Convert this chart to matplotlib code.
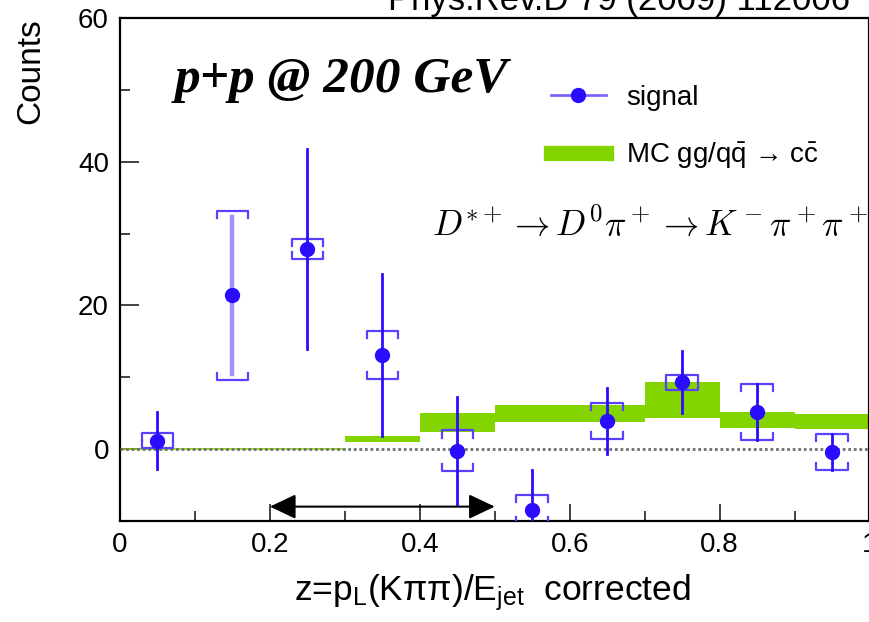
import numpy as np
import matplotlib
matplotlib.use("Agg")
import matplotlib.pyplot as plt
from matplotlib.lines import Line2D

plt.rcParams['font.family'] = ['Liberation Sans', 'DejaVu Sans']
plt.rcParams['mathtext.fontset'] = 'custom'
plt.rcParams['mathtext.rm'] = 'Liberation Sans'
plt.rcParams['mathtext.it'] = 'Liberation Sans:italic'

# D* signal vs z, bin centres
z = [0.05, 0.15, 0.25, 0.35, 0.45, 0.55, 0.65, 0.75, 0.85, 0.95]
counts = [1.2, 21.4, 27.9, 13.1, -0.2, -8.4, 3.9, 9.3, 5.2, -0.4]
stat_err = [3.9, 10.9, 13.9, 11.3, 7.4, 5.5, 4.6, 4.3, 3.9, 2.5]
syst_err = [1.0, 11.8, 1.4, 3.4, 2.8, 2.0, 2.5, 1.0, 3.9, 2.5]

# MC band (bin edges and lower/upper values)
mc_edges = [0.0, 0.1, 0.2, 0.3, 0.4, 0.5, 0.6, 0.7, 0.8, 0.9, 1.0]
mc_lo = [0, 0, 0, 1.0, 2.4, 3.8, 3.8, 4.3, 2.9, 2.8]
mc_hi = [0, 0, 0, 1.8, 5.0, 6.1, 6.1, 9.3, 5.2, 4.9]

blue = '#2a0cff'
bracket_col = '#5a40ff'
green = '#84d400'

fig = plt.figure(figsize=(8.7, 6.22), dpi=100)
ax = fig.add_axes([120/870, 1 - 521/622, 749.5/870, 503/622])

# MC band
for i in range(len(mc_lo)):
    x0, x1 = mc_edges[i], mc_edges[i+1]
    if mc_hi[i] > mc_lo[i]:
        ax.fill_between([x0, x1], mc_lo[i], mc_hi[i], color=green, lw=0, zorder=2)
    else:
        ax.plot([x0, x1], [mc_lo[i], mc_lo[i]], color=green, lw=1.2, zorder=2)

# zero line
ax.axhline(0, color='#707070', lw=2, ls=(0, (1, 1)), zorder=3)

# systematic brackets
hw = 0.021
for xi, yi, s in zip(z, counts, syst_err):
    t = min(1.0, s)
    for yy, sign in ((yi + s, -1), (yi - s, 1)):
        ax.plot([xi - hw, xi - hw, xi + hw, xi + hw],
                [yy + sign*t, yy, yy, yy + sign*t],
                color=bracket_col, lw=1.6, zorder=4)

# statistical errors + points
for i, (xi, yi, e) in enumerate(zip(z, counts, stat_err)):
    if i == 1:
        ax.plot([xi, xi], [yi - e, yi + e], color='#9d90ff', lw=3.2, zorder=4)
    else:
        ax.plot([xi, xi], [yi - e, yi + e], color=blue, lw=2, zorder=4)
ax.plot(z, counts, 'o', color=blue, ms=10, zorder=5)

# arrow marking the z range
ax.annotate('', xy=(0.5, -8), xytext=(0.2, -8),
            arrowprops=dict(arrowstyle='<|-|>,head_length=0.8,head_width=0.38',
                            color='black', lw=1.5, mutation_scale=20,
                            shrinkA=0, shrinkB=0), zorder=6)

ax.set_xlim(0, 1)
ax.set_ylim(-10, 60)
ax.set_xticks(np.arange(0, 1.01, 0.2))
ax.set_xticklabels(['0', '0.2', '0.4', '0.6', '0.8', '1'])
ax.set_xticks(np.arange(0.1, 1.0, 0.2), minor=True)
ax.set_yticks([0, 20, 40, 60])
ax.set_yticks([-10, 10, 30, 50], minor=True)
ax.tick_params(direction='in', labelsize=20, width=1.3, color='#333333', pad=8)
ax.tick_params(axis='y', which='major', length=14)
ax.tick_params(axis='x', which='major', length=12)
ax.tick_params(which='minor', direction='in', length=7, width=1.3, color='#333333')
for sp in ax.spines.values():
    sp.set_linewidth(1.6)

ax.set_ylabel('Counts', fontsize=24, loc='top')
ax.yaxis.set_label_coords(-0.098, 1.0)
ax.set_xlabel('z=p$_{\\rm L}$(K\u03c0\u03c0)/E$_{\\rm jet}$  corrected', fontsize=25.5)
ax.xaxis.set_label_coords(0.497, -0.102)

ax.text(0.073, 0.853, 'p+p @ 200 GeV', transform=ax.transAxes, fontsize=37,
        family='Liberation Serif', style='italic', weight='bold', va='baseline')
ax.text(0.416, 0.567, r'$D^{*+} \rightarrow D^0\pi^+ \rightarrow K^-\pi^+\pi^+$',
        transform=ax.transAxes, fontsize=25.5, math_fontfamily='cm', va='baseline')

handles = [Line2D([], [], color='#7a66ff', lw=2, marker='o', ms=10,
                  markerfacecolor=blue, markeredgecolor=blue),
           Line2D([], [], color=green, lw=11)]
labels = ['signal', 'MC gg/q$\\bar{\\rm q}$ \u2192 c$\\bar{\\rm c}$']
ax.legend(handles, labels, loc='upper left', bbox_to_anchor=(0.556, 0.894),
          frameon=False, fontsize=20, handlelength=2.0, handletextpad=0.72,
          labelspacing=1.05, borderpad=0)

fig.text(0.711, 1 - 10/622, 'Phys.Rev.D 79 (2009) 112006', fontsize=25,
         ha='center', va='baseline')

fig.savefig('out.png', dpi=100)
